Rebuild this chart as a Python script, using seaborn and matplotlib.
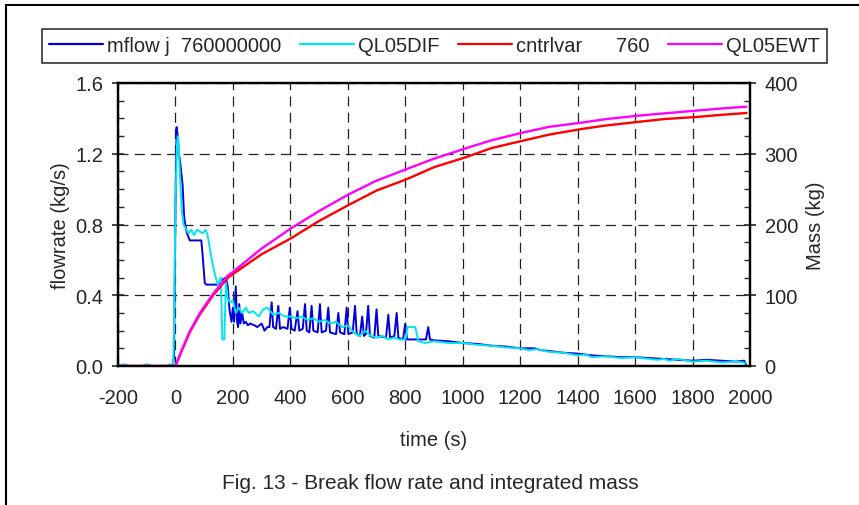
import numpy as np
import pandas as pd
import matplotlib
matplotlib.use("Agg")
import matplotlib.pyplot as plt
from matplotlib.ticker import MultipleLocator
from matplotlib.patches import Rectangle
import seaborn as sns

# ---------------- data ----------------
blue_t = [-200, -10, -5, 0, 4, 8, 12, 15, 20, 25, 30, 33, 40, 45, 50, 90, 95, 102, 107, 148,
          165, 175, 182, 188, 195, 200, 204, 210, 214, 218, 222, 226, 232, 238, 245, 252, 260,
          275, 285, 300, 310, 320, 327, 335, 340, 350, 358, 364, 375, 390, 398, 404, 415,
          425, 431, 443, 451, 457, 466, 474, 480, 495, 503, 509, 524, 532, 538, 559, 567,
          573, 588, 596, 602, 617, 625, 631, 642, 650, 656, 663, 671, 677, 692, 700, 706,
          733, 741, 747, 762, 770, 776, 792, 800, 806, 840, 872, 880, 886, 900, 950, 1000,
          1050, 1100, 1150, 1200, 1250, 1270, 1300, 1350, 1400, 1450, 1500, 1550, 1600, 1650,
          1700, 1750, 1800, 1850, 1900, 1950, 1980, 1988]
blue_f = [0.0, 0.0, 0.05, 0.9, 1.35, 1.3, 1.2, 1.17, 1.1, 1.02, 0.85, 0.81, 0.75, 0.73, 0.71, 0.71, 0.62, 0.47, 0.46, 0.46,
          0.49, 0.5, 0.45, 0.32, 0.25, 0.33, 0.25, 0.45, 0.26, 0.22, 0.35, 0.24, 0.3, 0.24, 0.25, 0.23, 0.24,
          0.23, 0.22, 0.24, 0.2, 0.22, 0.22, 0.36, 0.22, 0.21, 0.34, 0.21, 0.22, 0.21, 0.33, 0.21, 0.2,
          0.31, 0.2, 0.21, 0.35, 0.2, 0.19, 0.34, 0.2, 0.19, 0.35, 0.19, 0.2, 0.33, 0.19, 0.18, 0.3,
          0.19, 0.18, 0.33, 0.18, 0.19, 0.34, 0.18, 0.17, 0.28, 0.17, 0.18, 0.34, 0.17, 0.16, 0.32, 0.17,
          0.16, 0.29, 0.16, 0.17, 0.3, 0.16, 0.15, 0.24, 0.15, 0.15, 0.15, 0.22, 0.15, 0.145, 0.14, 0.13,
          0.125, 0.115, 0.11, 0.1, 0.1, 0.09, 0.085, 0.075, 0.07, 0.06, 0.055, 0.05, 0.05, 0.045,
          0.04, 0.035, 0.03, 0.035, 0.03, 0.025, 0.03, 0.0]

cyan_t = [-200, -180, -160, -120, -100, -80, -30, -20, -8, -5, 0, 5, 8, 12, 18, 22, 28, 35, 45, 55,
          65, 75, 85, 95, 105, 112, 120, 130, 140, 148, 154, 158, 163, 170, 176, 182, 190, 200,
          210, 220, 232, 245, 255, 270, 290, 305, 320, 340, 360, 380, 400, 420, 440, 460, 480,
          500, 520, 540, 560, 580, 600, 620, 640, 660, 680, 700, 720, 740, 760, 780, 800, 808,
          835, 845, 870, 900, 950, 1000, 1050, 1100, 1150, 1200, 1230, 1260, 1300, 1350, 1400,
          1430, 1450, 1500, 1550, 1600, 1620, 1650, 1680, 1700, 1720, 1750, 1780, 1800, 1850,
          1900, 1950, 1980, 1985]
cyan_f = [0.0, 0.01, 0.0, 0.0, 0.01, 0.0, 0.0, 0.01, 0.0, 0.2, 0.9, 1.25, 1.3, 1.22, 1.0, 0.88, 0.8, 0.78, 0.75, 0.77,
          0.74, 0.77, 0.76, 0.75, 0.77, 0.74, 0.66, 0.57, 0.5, 0.46, 0.48, 0.5, 0.15, 0.15, 0.47, 0.38, 0.36, 0.37,
          0.3, 0.33, 0.3, 0.33, 0.3, 0.31, 0.28, 0.32, 0.33, 0.29, 0.3, 0.28, 0.28, 0.27, 0.28, 0.26, 0.27,
          0.25, 0.26, 0.24, 0.25, 0.22, 0.23, 0.19, 0.17, 0.2, 0.17, 0.16, 0.17, 0.15, 0.16, 0.15, 0.15, 0.22,
          0.22, 0.14, 0.13, 0.14, 0.13, 0.13, 0.12, 0.115, 0.105, 0.1, 0.09, 0.095, 0.08, 0.075, 0.06,
          0.065, 0.05, 0.055, 0.045, 0.05, 0.045, 0.04, 0.035, 0.04, 0.03, 0.04, 0.03, 0.025, 0.03,
          0.02, 0.025, 0.02, 0.0]

mass_t = [-200, 0, 10, 20, 33, 50, 85, 131, 183, 200, 300, 400, 500, 600, 700, 805, 900, 1010, 1100, 1210,
          1300, 1414, 1500, 1610, 1700, 1814, 1900, 1988]
red_m = [0, 0, 10, 20, 32, 48, 73, 100, 125, 130, 158, 180, 205, 227, 248, 264, 281, 295, 308, 318.5,
         327, 335, 340, 345, 349, 352, 355, 357.6]
mag_m = [0, 0, 10, 20, 33, 49, 75, 102, 128, 133, 166, 194, 219, 242, 262, 278.4, 293, 307.6, 319, 330,
         338, 344, 349, 353.8, 357, 361, 364, 366.5]

labels = ["mflow j  760000000", "QL05DIF", "cntrlvar      760", "QL05EWT"]
colors = ["#0000dd", "#00e5ee", "#ff0000", "#ff00ff"]

df_blue = pd.DataFrame({"t": blue_t, "v": blue_f})
df_cyan = pd.DataFrame({"t": cyan_t, "v": cyan_f})
df_red = pd.DataFrame({"t": mass_t, "v": red_m})
df_mag = pd.DataFrame({"t": mass_t, "v": mag_m})

# ---------------- styling ----------------
sns.set_style("white")
plt.rcParams["font.family"] = ["Liberation Sans", "DejaVu Sans"]
plt.rcParams["font.size"] = 14.5
plt.rcParams["axes.unicode_minus"] = False

FS = 14.5
W, H = 859, 506
fig = plt.figure(figsize=(W / 100, H / 100), dpi=100)
L, R, T, B = 118, 750, 84, 367
ax = fig.add_axes([L / W, 1 - B / H, (R - L) / W, (B - T) / H])
ax2 = ax.twinx()

sns.lineplot(data=df_blue, x="t", y="v", ax=ax, color=colors[0], lw=1.4, estimator=None, label=labels[0], legend=False)
sns.lineplot(data=df_cyan, x="t", y="v", ax=ax, color=colors[1], lw=1.4, estimator=None, label=labels[1], legend=False)
sns.lineplot(data=df_red, x="t", y="v", ax=ax2, color=colors[2], lw=1.7, estimator=None, label=labels[2], legend=False)
sns.lineplot(data=df_mag, x="t", y="v", ax=ax2, color=colors[3], lw=1.7, estimator=None, label=labels[3], legend=False)

ax.set_xlim(-200, 2000)
ax.set_ylim(0, 1.6)
ax2.set_ylim(0, 400)

ax.xaxis.set_major_locator(MultipleLocator(200))
ax.xaxis.set_minor_locator(MultipleLocator(50))
ax.set_yticks(np.arange(0, 1.61, 0.4))
ax.set_yticklabels([f"{v:.1f}" for v in np.arange(0, 1.61, 0.4)])
ax.yaxis.set_minor_locator(MultipleLocator(0.1))
ax2.yaxis.set_major_locator(MultipleLocator(100))
ax2.yaxis.set_minor_locator(MultipleLocator(25))

ax.tick_params(axis="x", which="major", direction="inout", length=9, width=1.2, pad=11, labelsize=FS)
ax.tick_params(axis="x", which="minor", direction="in", length=4, width=1)
ax.tick_params(axis="y", which="major", direction="inout", length=9, width=1.2, pad=6, labelsize=FS)
ax.tick_params(axis="y", which="minor", direction="in", length=4, width=1)
ax2.tick_params(axis="y", which="major", direction="inout", length=9, width=1.2, pad=6, labelsize=FS)
ax2.tick_params(axis="y", which="minor", direction="in", length=4, width=1)

ax.grid(True, which="major", color="#222222", lw=0.9, linestyle=(0, (8, 5)))
ax.set_axisbelow(True)
for a in (ax, ax2):
    for s in a.spines.values():
        s.set_color("black")
        s.set_linewidth(1.6)
ax2.set_zorder(ax.get_zorder() + 1)
ax2.patch.set_visible(False)

ax.set_xlabel("time (s)", fontsize=FS, labelpad=17)
ax.set_ylabel("flowrate (kg/s)", fontsize=FS, labelpad=4)
ax2.set_ylabel("Mass (kg)", fontsize=FS, labelpad=6)

fig.text(430 / W, 1 - 484 / H, "Fig. 13 - Break flow rate and integrated mass", ha="center", va="center", fontsize=15)

# legend
handles = ax.get_lines()[:2] + ax2.get_lines()[:2]
leg = fig.legend(handles, labels, loc="center", bbox_to_anchor=(434.5 / W, 1 - 47 / H), ncol=4,
                 frameon=True, fancybox=False, fontsize=FS, handlelength=2.7, handletextpad=0.2,
                 columnspacing=0.9, borderpad=0.35, edgecolor="black")
leg.get_frame().set_linewidth(1.2)
for h in leg.legend_handles:
    h.set_linewidth(1.6)

# outer frame
fig.patches.append(Rectangle((6 / W, -0.1), 1.2, 1 - 6 / H + 0.1, transform=fig.transFigure,
                             fill=False, edgecolor="black", lw=1.5))

fig.savefig("out.png", dpi=100)
